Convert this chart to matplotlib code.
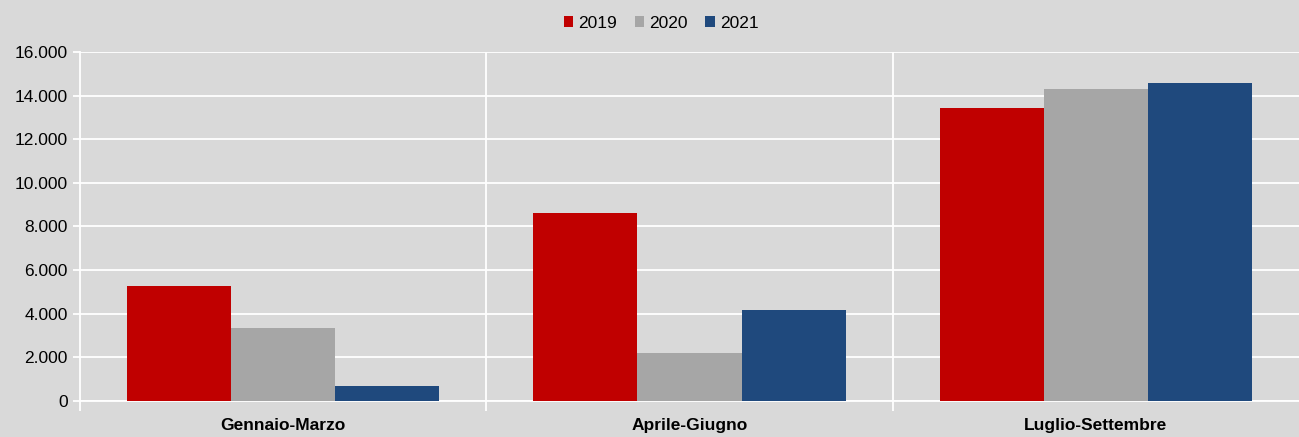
import numpy as np
import matplotlib.pyplot as plt
from matplotlib.ticker import FuncFormatter

categories = ["Gennaio-Marzo", "Aprile-Giugno", "Luglio-Settembre"]
years = ["2019", "2020", "2021"]
v2019 = [5290, 8620, 13450]
v2020 = [3350, 2210, 14300]
v2021 = [710, 4170, 14560]
colors = ["#c00000", "#a6a6a6", "#1f497d"]

plt.rcParams["font.family"] = ["Liberation Sans", "DejaVu Sans"]
bg = "#d9d9d9"

fig = plt.figure(figsize=(12.99, 4.37), dpi=100, facecolor=bg)
ax = fig.add_axes([0.0616, 0.0824, 0.9384, 0.7986], facecolor=bg)

x = np.arange(len(categories))
w = 0.256
for i, (vals, lab, c) in enumerate(zip([v2019, v2020, v2021], years, colors)):
    ax.bar(x + (i - 1) * w, vals, w, color=c, label=lab, zorder=3)

ax.set_xlim(-0.5, 2.5)
ax.set_ylim(0, 16000)
ax.set_yticks(np.arange(0, 16001, 2000))
ax.yaxis.set_major_formatter(FuncFormatter(lambda v, p: f"{int(v):,}".replace(",", ".")))
ax.grid(axis="y", color="white", linewidth=1.3, zorder=0)

# vertical separators between categories
for b in [0.5, 1.5]:
    ax.axvline(b, color="white", linewidth=1.3, zorder=0)

ax.set_xticks([-0.5, 0.5, 1.5])
ax.set_xticklabels([])
ax.tick_params(axis="x", length=7, width=1.3, color="white")
ax.tick_params(axis="y", length=5, width=1.3, color="white", labelsize=12.5, pad=4)

for s in ["top", "right"]:
    ax.spines[s].set_visible(False)
for s in ["left", "bottom"]:
    ax.spines[s].set_color("white")
    ax.spines[s].set_linewidth(1.3)

for xi, cat in zip(x, categories):
    ax.text(xi, -0.05, cat, transform=ax.get_xaxis_transform(), ha="center", va="top",
            fontsize=12.5, fontweight="bold")

fig.legend(loc="upper center", bbox_to_anchor=(0.509, 1.0), ncol=3, frameon=False,
           fontsize=12.5, handlelength=0.55, handleheight=0.55, handletextpad=0.3,
           columnspacing=1.0)

fig.savefig("out.png", dpi=100, facecolor=bg)
